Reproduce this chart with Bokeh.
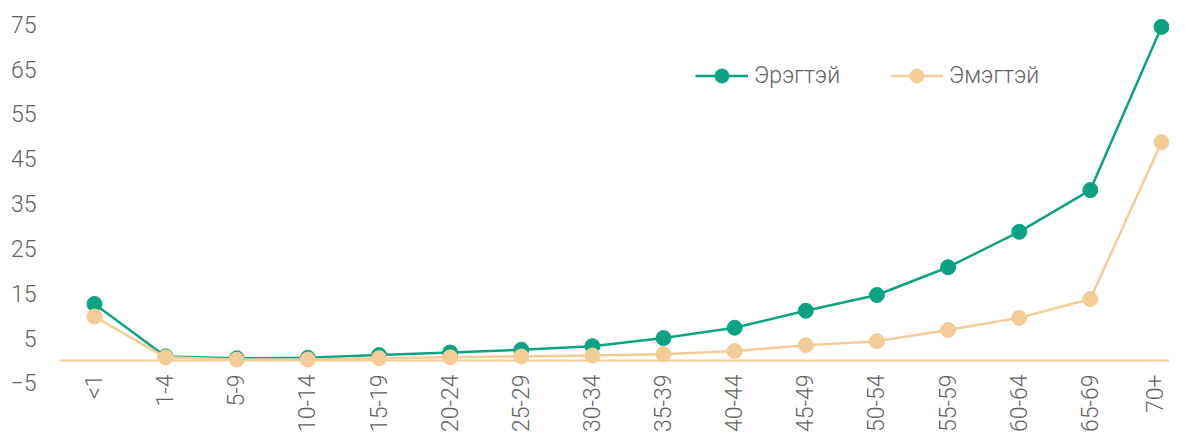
import math
from bokeh.plotting import figure
from bokeh.models import ColumnDataSource, FixedTicker, Legend, LegendItem, Range1d
from bokeh.embed import file_html
from bokeh.resources import INLINE

categories = ["<1", "1-4", "5-9", "10-14", "15-19", "20-24", "25-29", "30-34",
              "35-39", "40-44", "45-49", "50-54", "55-59", "60-64", "65-69", "70+"]
male = [12.6, 0.9, 0.5, 0.6, 1.2, 1.8, 2.4, 3.2, 5.0, 7.3, 11.1, 14.6, 20.8, 28.7, 38.0, 74.4]
female = [9.8, 0.7, 0.2, 0.2, 0.5, 0.7, 0.9, 1.1, 1.4, 2.1, 3.4, 4.3, 6.8, 9.5, 13.7, 48.7]
y_ticks = [-5, 5, 15, 25, 35, 45, 55, 65, 75]
series_names = ["Эрэгтэй", "Эмэгтэй"]

GREEN = "#0BA384"
PEACH = "#F4CC97"
TEXT = "#626262"
FONT = "Roboto Light"
FS = "23px"

xs = list(range(len(categories)))
src = ColumnDataSource(dict(x=xs, male=male, female=female))

p = figure(width=1169, height=432, output_backend="svg", toolbar_location=None,
           x_range=Range1d(-0.492, 15.113), y_range=Range1d(-16.06, 80.29),
           min_border_left=59, min_border_right=0, min_border_top=0, min_border_bottom=0)
p.outline_line_color = None
p.xgrid.visible = False
p.ygrid.visible = False

r1l = p.line("x", "male", source=src, color=GREEN, line_width=2.5)
r1m = p.scatter("x", "male", source=src, size=15, color=GREEN)
r2l = p.line("x", "female", source=src, color=PEACH, line_width=2.5)
r2m = p.scatter("x", "female", source=src, size=15, color=PEACH)

# y axis
p.yaxis.ticker = FixedTicker(ticks=y_ticks)
p.yaxis.axis_line_color = None
p.yaxis.major_tick_line_color = None
p.yaxis.minor_tick_line_color = None
p.yaxis.major_tick_out = 0
p.yaxis.major_tick_in = 0
p.yaxis.major_label_standoff = 23
p.yaxis.major_label_text_font = FONT
p.yaxis.major_label_text_font_size = FS
p.yaxis.major_label_text_color = TEXT

# x axis drawn at y = 0
p.xaxis.fixed_location = 0
p.xaxis.ticker = FixedTicker(ticks=xs)
p.xaxis.major_label_overrides = {i: c for i, c in enumerate(categories)}
p.xaxis.axis_line_color = PEACH
p.xaxis.axis_line_width = 2
p.xaxis.major_tick_line_color = None
p.xaxis.minor_tick_line_color = None
p.xaxis.major_tick_out = 0
p.xaxis.major_tick_in = 0
p.xaxis.major_label_standoff = 14
p.xaxis.major_label_orientation = math.pi / 2
p.xaxis.major_label_text_font = FONT
p.xaxis.major_label_text_font_size = FS
p.xaxis.major_label_text_color = TEXT

legend = Legend(items=[LegendItem(label=series_names[0], renderers=[r1l, r1m]),
                       LegendItem(label=series_names[1], renderers=[r2l, r2m])],
                location=(636, 339), orientation="horizontal",
                glyph_width=53, glyph_height=35, label_standoff=6, spacing=50,
                padding=0, margin=0, border_line_color=None, background_fill_alpha=0,
                label_text_font=FONT, label_text_font_size=FS,
                label_text_color=TEXT, label_height=20)
p.add_layout(legend)

open("out.html", "w").write(file_html(p, INLINE))
